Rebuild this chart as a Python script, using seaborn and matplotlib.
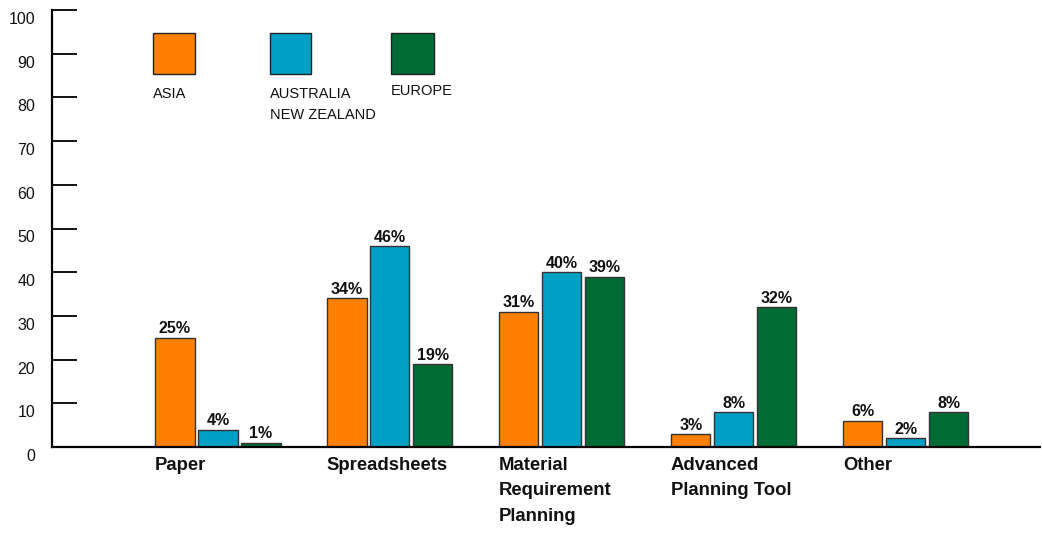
import matplotlib
matplotlib.use("Agg")
import matplotlib.pyplot as plt
import matplotlib.transforms as mtransforms
from matplotlib.patches import Rectangle
import pandas as pd
import seaborn as sns

# Survey data: planning tools used, share of respondents by region (%)
categories = ["Paper", "Spreadsheets", "Material\nRequirement\nPlanning",
              "Advanced\nPlanning Tool", "Other"]
regions = ["ASIA", "AUSTRALIA\nNEW ZEALAND", "EUROPE"]
asia = [25, 34, 31, 3, 6]
anz = [4, 46, 40, 8, 2]
europe = [1, 19, 39, 32, 8]
y_ticks = [0, 10, 20, 30, 40, 50, 60, 70, 80, 90, 100]

colors = ["#FF8000", "#00A0C6", "#006B35"]

sns.set_style("white")
plt.rcParams["font.family"] = ["Liberation Sans", "DejaVu Sans"]

df = pd.DataFrame({
    "category": categories * 3,
    "region": [regions[0]] * 5 + [regions[1]] * 5 + [regions[2]] * 5,
    "value": asia + anz + europe,
})

W, H = 1042, 534
fig = plt.figure(figsize=(W / 100, H / 100), dpi=100)
ax = fig.add_axes([52 / W, (H - 447) / H, (1040 - 52) / W, (447 - 10) / H])

sns.barplot(data=df, x="category", y="value", hue="region", order=categories,
            hue_order=regions, palette=colors, width=0.75, gap=0.09,
            edgecolor="#333333", linewidth=1.0, saturation=1, legend=False, ax=ax)

ax.set_xlim(-0.965, 4.78)
ax.set_ylim(0, 100)
ax.set_xlabel("")
ax.set_ylabel("")

for s in ["top", "right"]:
    ax.spines[s].set_visible(False)
for s in ["left", "bottom"]:
    ax.spines[s].set_color("black")
    ax.spines[s].set_linewidth(1.6)

ax.set_yticks(y_ticks)
ax.set_yticklabels([str(t) for t in y_ticks])
ax.tick_params(axis="y", left=True, direction="in", length=18, width=1.3,
               color="black", pad=12, labelsize=11.5, labelcolor="#111111")
down = mtransforms.ScaledTranslation(0, -8 / 100, fig.dpi_scale_trans)
for lab in ax.get_yticklabels():
    lab.set_transform(lab.get_transform() + down)

# Category names, left-aligned under the first bar of each group
ax.set_xticks([])
group_left = 0.75 / 2
for i, name in enumerate(categories):
    ax.annotate(name, xy=(i - group_left, 0), xycoords=("data", "axes fraction"),
                xytext=(1, -7), textcoords="offset points", ha="left", va="top",
                fontsize=13.3, fontweight="bold", linespacing=1.65, color="#111111")

# Value labels on top of the bars
for cont in ax.containers:
    ax.bar_label(cont, fmt="%g%%", padding=1, fontsize=11.5, fontweight="bold",
                 color="#111111")

# Legend: colour squares with the region name underneath
legend_items = [(153, 33, 42, 41, 87), (270, 33, 41, 41, 87), (391, 33, 43, 41, 84)]
for (x0, y0, w, h, ty), color, name in zip(legend_items, colors, regions):
    fig.patches.append(Rectangle((x0 / W, 1 - (y0 + h) / H), w / W, h / H,
                                 transform=fig.transFigure, facecolor=color,
                                 edgecolor="#222222", linewidth=1.0))
    fig.text(x0 / W, 1 - ty / H, name, ha="left", va="top", fontsize=10.5,
             linespacing=1.6, color="#111111")

fig.savefig("out.png", dpi=100)
